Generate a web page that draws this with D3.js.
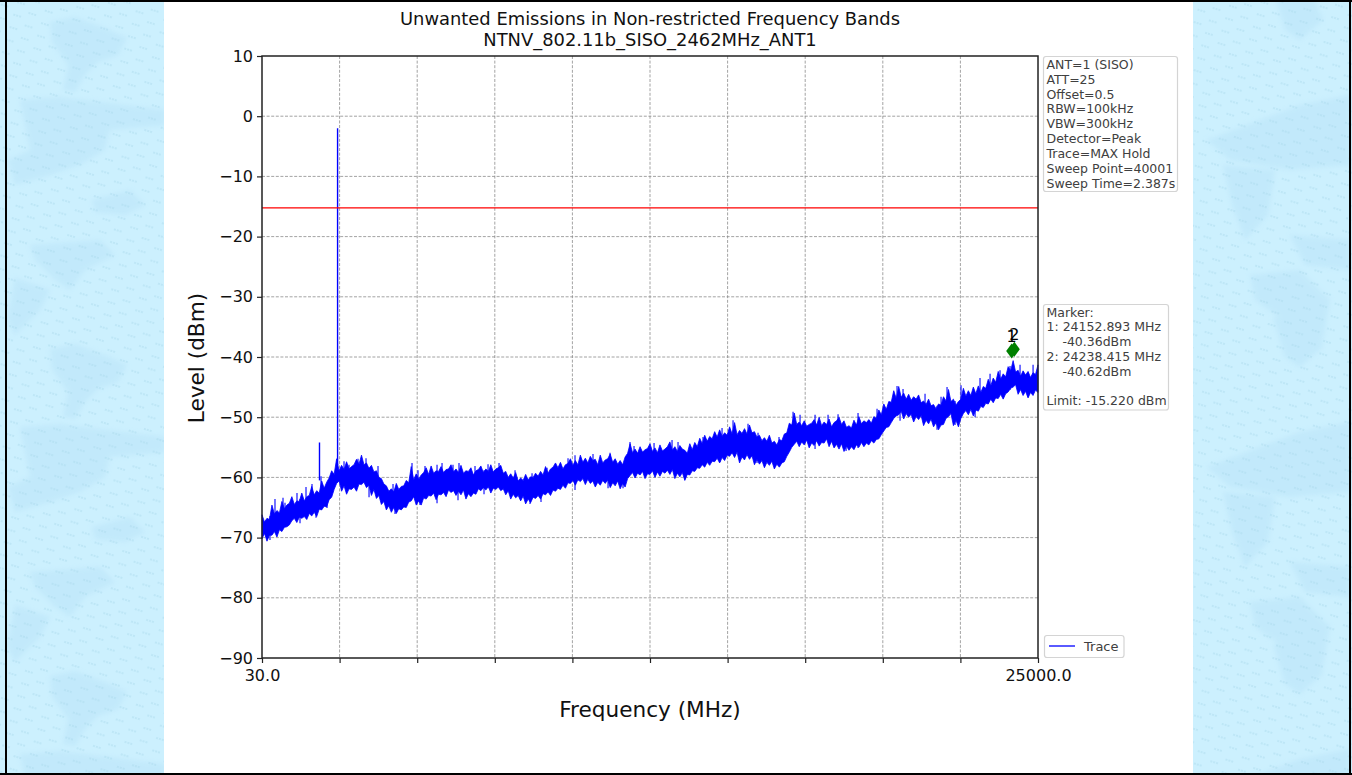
<!DOCTYPE html>
<html>
<head>
<meta charset="utf-8">
<title>Unwanted Emissions</title>
<script src="https://cdn.jsdelivr.net/npm/d3@7"></script>
<style>
  html, body { margin: 0; padding: 0; background: #fff; overflow: hidden; }
  svg { display: block; }
  text { font-family: "DejaVu Sans", sans-serif; }
  .tick text { font-size: 16px; fill: #111; }
  .box text { font-size: 12.5px; fill: #404040; }
</style>
</head>
<body>
<svg id="canvas" width="1352" height="775"></svg>
<script>
const yTicks = [10, 0, -10, -20, -30, -40, -50, -60, -70, -80, -90];
const xTicks = [30, 2527, 5024, 7521, 10018, 12515, 15012, 17509, 20006, 22503, 25000];
const xTickLabels = {30: '30.0', 25000: '25000.0'};

// top and bottom of the noise band, dBm, evenly spaced from 30 to 25000 MHz
const traceUpper = [
  -66.2,-67.4,-66.8,-67.0,-64.6,-66.1,-65.5,-65.9,-64.0,-65.2,-64.6,-64.3,-63.2,-64.5,-63.9,-64.0,
  -62.6,-63.9,-63.2,-63.0,-61.5,-62.9,-62.2,-62.6,-60.6,-61.8,-60.8,-60.1,-58.9,-59.5,-56.9,-58.9,
  -58.0,-58.7,-57.4,-58.6,-58.2,-57.9,-57.0,-57.8,-56.3,-57.9,-57.6,-58.5,-58.0,-59.1,-58.9,-60.0,
  -60.2,-61.1,-61.4,-62.3,-61.9,-62.4,-61.0,-62.0,-61.5,-61.4,-60.5,-60.9,-58.2,-60.4,-59.4,-60.3,
  -59.6,-59.2,-58.4,-59.5,-58.1,-59.3,-58.9,-59.0,-58.2,-59.2,-58.7,-58.6,-57.9,-59.1,-58.6,-59.2,
  -58.0,-59.3,-58.9,-59.0,-58.4,-59.6,-58.9,-58.7,-58.1,-59.2,-58.6,-59.0,-57.9,-59.1,-58.6,-58.4,
  -58.0,-59.3,-59.0,-60.0,-59.4,-60.1,-59.2,-60.6,-60.1,-60.5,-59.5,-60.4,-59.9,-60.0,-59.3,-59.8,
  -59.0,-59.6,-58.2,-59.3,-58.6,-58.3,-57.6,-58.4,-57.5,-58.6,-57.9,-57.7,-56.9,-58.0,-57.2,-57.9,
  -56.3,-57.5,-56.8,-57.6,-56.5,-57.2,-57.0,-57.9,-56.3,-57.6,-57.1,-56.9,-56.1,-57.5,-56.9,-57.8,
  -57.2,-57.9,-56.6,-56.0,-54.4,-55.9,-55.3,-56.0,-54.9,-55.8,-55.4,-55.2,-54.4,-55.7,-55.1,-55.9,
  -54.6,-55.6,-55.3,-54.9,-54.1,-55.5,-54.9,-55.7,-54.7,-55.3,-55.5,-56.0,-54.4,-55.4,-54.2,-54.9,
  -53.5,-54.4,-53.0,-54.0,-53.2,-53.6,-52.4,-53.3,-52.1,-53.2,-52.6,-53.0,-51.6,-52.8,-50.9,-52.9,
  -52.2,-52.7,-51.9,-52.8,-51.3,-52.6,-52.4,-53.3,-53.0,-53.9,-53.4,-54.0,-53.0,-54.3,-54.0,-54.6,
  -53.7,-53.9,-52.8,-52.6,-51.0,-51.3,-49.3,-51.2,-50.8,-51.4,-50.6,-51.5,-51.2,-51.0,-50.4,-51.3,
  -50.0,-51.4,-50.8,-51.2,-50.3,-51.6,-50.9,-50.6,-50.0,-51.2,-50.6,-51.7,-51.4,-51.8,-50.5,-51.3,
  -49.9,-51.1,-50.6,-50.9,-50.4,-51.0,-49.9,-50.2,-48.8,-49.6,-47.8,-48.7,-47.4,-47.5,-45.6,-46.9,
  -44.9,-46.7,-46.0,-47.0,-46.2,-47.2,-46.6,-47.0,-46.3,-47.6,-47.3,-47.9,-47.0,-48.1,-47.9,-48.6,
  -47.8,-48.0,-46.6,-47.3,-45.4,-47.4,-47.0,-48.0,-47.4,-47.0,-45.2,-46.5,-45.6,-46.4,-45.0,-46.1,
  -44.8,-45.9,-44.9,-45.2,-43.7,-44.8,-43.5,-44.2,-42.4,-43.7,-42.8,-43.3,-41.6,-42.3,-40.6,-42.5,
  -42.2,-43.2,-42.3,-43.0,-42.4,-43.4,-42.6,-42.9,-41.3
];
const traceLower = [
  -70.2,-69.3,-70.6,-69.6,-69.6,-69.0,-69.9,-68.7,-69.0,-68.3,-68.2,-67.9,-67.2,-66.8,-67.5,-66.6,
  -66.8,-66.5,-67.0,-66.0,-66.4,-65.8,-66.5,-65.3,-65.4,-64.8,-64.9,-63.7,-63.3,-62.0,-61.0,-60.6,
  -62.3,-61.4,-62.8,-61.9,-62.0,-61.6,-62.3,-61.1,-61.2,-60.8,-61.7,-61.3,-63.0,-62.0,-63.5,-63.0,
  -64.5,-64.0,-65.4,-64.7,-65.8,-65.0,-66.0,-65.2,-65.4,-64.9,-65.0,-64.1,-63.9,-63.2,-64.6,-63.9,
  -64.6,-63.4,-63.6,-63.0,-63.1,-62.6,-63.7,-62.8,-62.9,-62.5,-63.2,-62.1,-62.5,-62.2,-63.0,-62.3,
  -62.9,-62.1,-63.6,-62.7,-63.2,-62.6,-62.8,-61.9,-62.2,-61.7,-62.1,-61.5,-62.6,-61.8,-62.0,-61.6,
  -62.2,-61.9,-62.9,-62.2,-63.6,-62.8,-63.4,-63.0,-63.9,-63.1,-64.4,-63.6,-64.2,-63.3,-63.5,-63.0,
  -63.6,-62.7,-62.9,-62.4,-63.0,-62.1,-62.3,-61.8,-62.0,-61.3,-61.8,-60.9,-61.0,-60.5,-61.3,-60.4,
  -60.7,-60.2,-61.2,-60.3,-61.0,-60.6,-61.6,-60.8,-61.3,-60.5,-61.0,-60.4,-61.7,-60.9,-61.4,-60.6,
  -61.9,-61.0,-61.6,-60.2,-59.7,-59.2,-60.1,-59.3,-59.6,-59.0,-60.2,-59.4,-59.5,-58.9,-60.0,-59.1,
  -59.8,-59.0,-59.3,-58.8,-59.5,-58.7,-60.2,-59.3,-59.9,-59.2,-60.5,-59.5,-59.6,-58.9,-59.0,-58.4,
  -58.5,-57.9,-58.3,-57.5,-58.0,-57.3,-57.4,-56.8,-57.6,-56.7,-57.2,-56.3,-56.5,-55.9,-56.7,-55.8,
  -57.6,-56.6,-57.1,-56.2,-57.0,-56.4,-57.9,-57.0,-57.8,-57.2,-58.4,-57.5,-58.0,-57.3,-58.6,-57.8,
  -58.3,-57.6,-57.4,-56.5,-55.8,-55.0,-54.5,-54.0,-54.9,-54.1,-54.6,-53.8,-55.1,-54.3,-54.7,-53.9,
  -54.8,-54.2,-54.3,-53.6,-54.9,-54.0,-55.1,-54.5,-55.3,-54.4,-55.7,-54.8,-55.5,-54.9,-55.4,-54.6,
  -55.0,-54.2,-54.9,-54.3,-54.6,-53.9,-54.3,-53.7,-53.6,-52.9,-52.3,-51.7,-51.6,-50.9,-50.2,-49.8,
  -49.6,-49.0,-50.3,-49.4,-50.0,-49.5,-50.8,-49.9,-50.4,-49.7,-51.4,-50.5,-51.1,-50.3,-51.6,-50.9,
  -52.1,-51.3,-51.2,-50.2,-49.9,-49.4,-51.4,-50.5,-51.6,-50.2,-49.4,-48.9,-49.6,-48.7,-49.8,-48.8,
  -49.0,-48.2,-48.4,-47.7,-47.8,-47.0,-47.6,-46.8,-46.9,-46.2,-47.0,-46.1,-45.8,-45.2,-45.0,-44.6,
  -46.2,-45.4,-46.4,-45.7,-46.8,-45.9,-46.4,-45.5,-45.9
];

// single noise peaks above the band
const peakFreq = [448, 706, 1156, 1446, 1639, 1929, 2669, 3119, 3377, 3763, 4246, 4857, 5050, 5275,
  5662, 5823, 6176, 6369, 6884, 7303, 7657, 8172, 8719, 9201, 9877, 10102, 10681, 11229, 11872,
  12001, 12645, 13224, 13417, 14221, 14833, 15187, 15669, 15991, 17118, 17343, 17826, 18244,
  18566, 19209, 19821, 20464, 20657, 21365, 21880, 22073, 22523, 23134, 23457, 23778, 24422, 24841];
const peakLevel = [-63.6, -63.4, -62.6, -61.6, -61.1, -59.8, -57.3, -56.9, -56.8, -58.1, -61.1, -57.6, -58.8, -58.1,
  -57.9, -57.6, -57.9, -57.6, -58.1, -57.8, -57.6, -58.8, -59.3, -58.4, -56.8, -56.3, -56.1, -55.9, -54.1,
  -54.8, -54.3, -53.8, -54.1, -53.3, -51.8, -50.5, -51.1, -52.6, -49.1, -49.6, -49.6, -49.6,
  -49.5, -49.3, -48.6, -44.8, -45.3, -46.1, -46.6, -45.0, -44.7, -43.5, -42.8, -42.2, -41.3, -41.3];

// single dips below the band
const dipFreq = [287, 770, 1253, 1768, 2122, 2830, 3474, 4310, 5114, 5662, 6337, 7174, 8655, 9008,
  10102, 11165, 11647, 12356, 13642, 14769, 15958, 16666, 17826, 18824, 19209, 20561, 21751, 22331, 22975, 24100, 24680];
const dipLevel = [-70.4, -68.2, -67.6, -66.7, -65.1, -61.9, -63.3, -66.1, -64.6, -64.3, -63.8, -62.8, -64.4, -64.1,
  -62.1, -61.8, -61.8, -59.8, -60.3, -57.4, -57.6, -57.3, -55.3, -55.6, -55.1, -50.6, -52.1, -51.3, -50.0, -45.5, -46.6];

// narrow spikes that stand out of the band
const spikeFreq = [1880, 2462];
const spikeTop = [-54.2, -2.0];
const spikeBase = [-60.5, -58.0];

const limitLevel = -15.22;

const markerFreq = [24152.893, 24238.415];
const markerLevel = [-39.0, -38.7];
const markerNames = ['1', '2'];

const infoLines = ['ANT=1 (SISO)', 'ATT=25', 'Offset=0.5', 'RBW=100kHz', 'VBW=300kHz',
  'Detector=Peak', 'Trace=MAX Hold', 'Sweep Point=40001', 'Sweep Time=2.387s'];
const markerLines = ['Marker:', '1: 24152.893 MHz', '    -40.36dBm', '2: 24238.415 MHz',
  '    -40.62dBm', '', 'Limit: -15.220 dBm'];

// faint map shapes of the page background, one vertical period each
const leftBlobs = [
  [[50,22],[75,17],[110,30],[127,38],[118,55],[98,62],[85,75],[75,92],[63,90],[68,65],[52,42]],
  [[20,100],[60,97],[110,103],[165,110],[165,125],[110,130],[105,150],[80,165],[50,175],[15,185],[8,160],[30,150]],
  [[92,200],[130,190],[145,205],[125,215],[95,212]],
  [[30,245],[100,240],[115,255],[85,270],[70,290],[55,280],[35,260]],
  [[15,278],[50,290],[40,310],[15,335],[7,320]]
];
const rightBlobs = [
  [[1273,-10],[1310,-10],[1323,20],[1300,40],[1285,30]],
  [[1207,140],[1260,120],[1300,105],[1350,95],[1350,165],[1290,170],[1230,160]],
  [[1223,165],[1275,170],[1268,215],[1245,240],[1232,205]],
  [[1290,235],[1350,240],[1350,270],[1305,265]],
  [[1250,275],[1300,270],[1330,300],[1322,345],[1290,325],[1255,300]]
];

const width = 1352;
const height = 775;
const plot = {left: 262, right: 1038, top: 56, bottom: 658};
const GRASS = 4;  // how far a peak or dip line reaches back into the band, dB

let svg = d3.select('#canvas');

function drawBackground() {
    let defs = svg.append('defs');
    let pat = defs.append('pattern')
        .attr('id', 'wm')
        .attr('width', 29).attr('height', 13)
        .attr('patternUnits', 'userSpaceOnUse')
        .attr('patternTransform', 'rotate(17)');
    pat.append('path')
        .attr('d', 'M2,4h2m1,0h2m1,0h2 M17,10h2m1,0h2m1,0h2')
        .attr('stroke', '#a9d7ea').attr('stroke-width', 1).attr('opacity', 0.8);
    defs.append('filter').attr('id', 'soft')
        .append('feGaussianBlur').attr('stdDeviation', 2);
    defs.append('filter').attr('id', 'resampled')
        .attr('x', '-2%').attr('y', '-5%').attr('width', '104%').attr('height', '110%')
        .append('feGaussianBlur').attr('stdDeviation', 0.35);

    svg.append('rect').attr('width', width).attr('height', height).attr('fill', '#ccf0fe');

    let period = 327;
    let blobs = svg.append('g').attr('fill', '#c2e9fb').attr('filter', 'url(#soft)');
    [0, 1, 2].forEach(function (rep) {
        leftBlobs.concat(rightBlobs).forEach(function (pts) {
            blobs.append('path')
                .attr('d', d3.line()(pts) + 'Z')
                .attr('transform', `translate(0,${rep * period})`);
        });
    });
    svg.append('rect').attr('width', width).attr('height', height).attr('fill', 'url(#wm)');

    // page frame
    svg.append('rect').attr('x', 164).attr('y', 0).attr('width', 1029).attr('height', height).attr('fill', '#fff');
    svg.append('rect').attr('x', 0).attr('y', 0).attr('width', width).attr('height', 2).attr('fill', '#000');
    svg.append('rect').attr('x', 0).attr('y', 773).attr('width', width).attr('height', 2).attr('fill', '#000');
    svg.append('rect').attr('x', 5).attr('y', 0).attr('width', 2).attr('height', height).attr('fill', '#000');
    svg.append('rect').attr('x', 1349).attr('y', 0).attr('width', 2).attr('height', height).attr('fill', '#000');
}

function drawChart() {
    let x = d3.scaleLinear().domain([30, 25000]).range([plot.left, plot.right]);
    let y = d3.scaleLinear().domain([-90, 10]).range([plot.bottom, plot.top]);
    let idx = d3.scaleLinear().domain([0, traceUpper.length - 1]).range([30, 25000]);

    // grid
    let grid = svg.append('g').attr('stroke', '#8c8c8c').attr('stroke-width', 0.8).attr('stroke-dasharray', '3,1.6');
    grid.selectAll('line.gx').data(xTicks.slice(1, -1)).enter().append('line')
        .attr('x1', x).attr('x2', x).attr('y1', plot.top).attr('y2', plot.bottom);
    grid.selectAll('line.gy').data(yTicks.slice(1, -1)).enter().append('line')
        .attr('y1', y).attr('y2', y).attr('x1', plot.left).attr('x2', plot.right);

    // trace
    let band = d3.area()
        .x((d, i) => x(idx(i)))
        .y0((d) => y(d[1]))
        .y1((d) => y(d[0]));
    let trace = svg.append('g').attr('filter', 'url(#resampled)');
    trace.append('path')
        .datum(d3.zip(traceUpper, traceLower))
        .attr('d', band)
        .attr('fill', '#0000ff').attr('stroke', '#0000ff').attr('stroke-width', 0.8);

    trace.selectAll('line.peak').data(peakFreq).enter().append('line')
        .attr('class', 'peak')
        .attr('x1', (d) => x(d)).attr('x2', (d) => x(d))
        .attr('y1', (d, i) => y(peakLevel[i])).attr('y2', (d, i) => y(peakLevel[i] - GRASS))
        .attr('stroke', '#0000ff').attr('stroke-width', 1.1);
    trace.selectAll('line.dip').data(dipFreq).enter().append('line')
        .attr('class', 'dip')
        .attr('x1', (d) => x(d)).attr('x2', (d) => x(d))
        .attr('y1', (d, i) => y(dipLevel[i])).attr('y2', (d, i) => y(dipLevel[i] + GRASS))
        .attr('stroke', '#0000ff').attr('stroke-width', 1.1);

    trace.selectAll('line.spike').data(spikeFreq).enter().append('line')
        .attr('class', 'spike')
        .attr('x1', (d) => x(d)).attr('x2', (d) => x(d))
        .attr('y1', (d, i) => y(spikeTop[i])).attr('y2', (d, i) => y(spikeBase[i]))
        .attr('stroke', '#0000ff').attr('stroke-width', 1.4);

    // limit
    svg.append('line')
        .attr('x1', plot.left).attr('x2', plot.right)
        .attr('y1', y(limitLevel)).attr('y2', y(limitLevel))
        .attr('stroke', '#ff0000').attr('stroke-width', 1.3);

    // markers
    let mk = svg.append('g').selectAll('g').data(markerFreq).enter().append('g')
        .attr('transform', (d, i) => `translate(${x(d)},${y(markerLevel[i])})`);
    mk.append('path').attr('d', 'M0,-7.5L5.5,0L0,7.5L-5.5,0Z').attr('fill', '#008000');
    mk.append('text').text((d, i) => markerNames[i])
        .attr('text-anchor', 'middle').attr('y', -9)
        .attr('font-size', 16).attr('fill', '#000');

    // axes
    let xAxis = d3.axisBottom(x).tickValues(xTicks).tickSize(5).tickPadding(7)
        .tickFormat((d) => xTickLabels[d] || '');
    let yAxis = d3.axisLeft(y).tickValues(yTicks).tickSize(5).tickPadding(4)
        .tickFormat((d) => String(d).replace('-', '\u2212'));
    let gx = svg.append('g').attr('class', 'axis').attr('transform', `translate(0,${plot.bottom})`).call(xAxis);
    let gy = svg.append('g').attr('class', 'axis').attr('transform', `translate(${plot.left},0)`).call(yAxis);
    gx.select('.domain').remove();
    gy.select('.domain').remove();
    svg.selectAll('.axis line').attr('stroke', '#222').attr('stroke-width', 1.2);

    svg.append('rect')
        .attr('x', plot.left).attr('y', plot.top)
        .attr('width', plot.right - plot.left).attr('height', plot.bottom - plot.top)
        .attr('fill', 'none').attr('stroke', '#222').attr('stroke-width', 1.5);

    // titles
    let cx = (plot.left + plot.right) / 2;
    svg.append('text').text('Unwanted Emissions in Non-restricted Frequency Bands')
        .attr('x', cx).attr('y', 25).attr('text-anchor', 'middle').attr('font-size', 17.9).attr('fill', '#111');
    svg.append('text').text('NTNV_802.11b_SISO_2462MHz_ANT1')
        .attr('x', cx).attr('y', 46).attr('text-anchor', 'middle').attr('font-size', 17.9).attr('fill', '#111');
    svg.append('text').text('Frequency (MHz)')
        .attr('x', cx).attr('y', 717).attr('text-anchor', 'middle').attr('font-size', 21.6).attr('fill', '#111');
    svg.append('text').text('Level (dBm)')
        .attr('transform', 'translate(204,358) rotate(-90)')
        .attr('text-anchor', 'middle').attr('font-size', 21.6).attr('fill', '#111');
}

function textBox(lines, bx, by, bw, bh, firstBase, step) {
    let g = svg.append('g').attr('class', 'box');
    g.append('rect')
        .attr('x', bx).attr('y', by).attr('width', bw).attr('height', bh).attr('rx', 2.5)
        .attr('fill', '#fff').attr('stroke', '#d4d4d4').attr('stroke-width', 1.2);
    g.selectAll('text').data(lines).enter().append('text')
        .attr('x', bx + 3)
        .attr('y', (d, i) => firstBase + i * step)
        .style('white-space', 'pre')
        .text((d) => d);
}

function drawLegend() {
    let g = svg.append('g').attr('class', 'box');
    g.append('rect').attr('x', 1044.5).attr('y', 635.5).attr('width', 79.5).attr('height', 22).attr('rx', 2.5)
        .attr('fill', '#fff').attr('stroke', '#d4d4d4').attr('stroke-width', 1.2);
    g.append('line').attr('x1', 1049).attr('x2', 1075).attr('y1', 646).attr('y2', 646)
        .attr('stroke', '#0000ff').attr('stroke-width', 1.3);
    g.append('text').text('Trace').attr('x', 1084).attr('y', 651).style('font-size', '13px');
}

drawBackground();
drawChart();
textBox(infoLines, 1043.5, 56.5, 134, 135, 68.8, 14.85);
textBox(markerLines, 1043.5, 304.5, 125, 105.5, 316.6, 14.8);
drawLegend();
</script>
</body>
</html>
